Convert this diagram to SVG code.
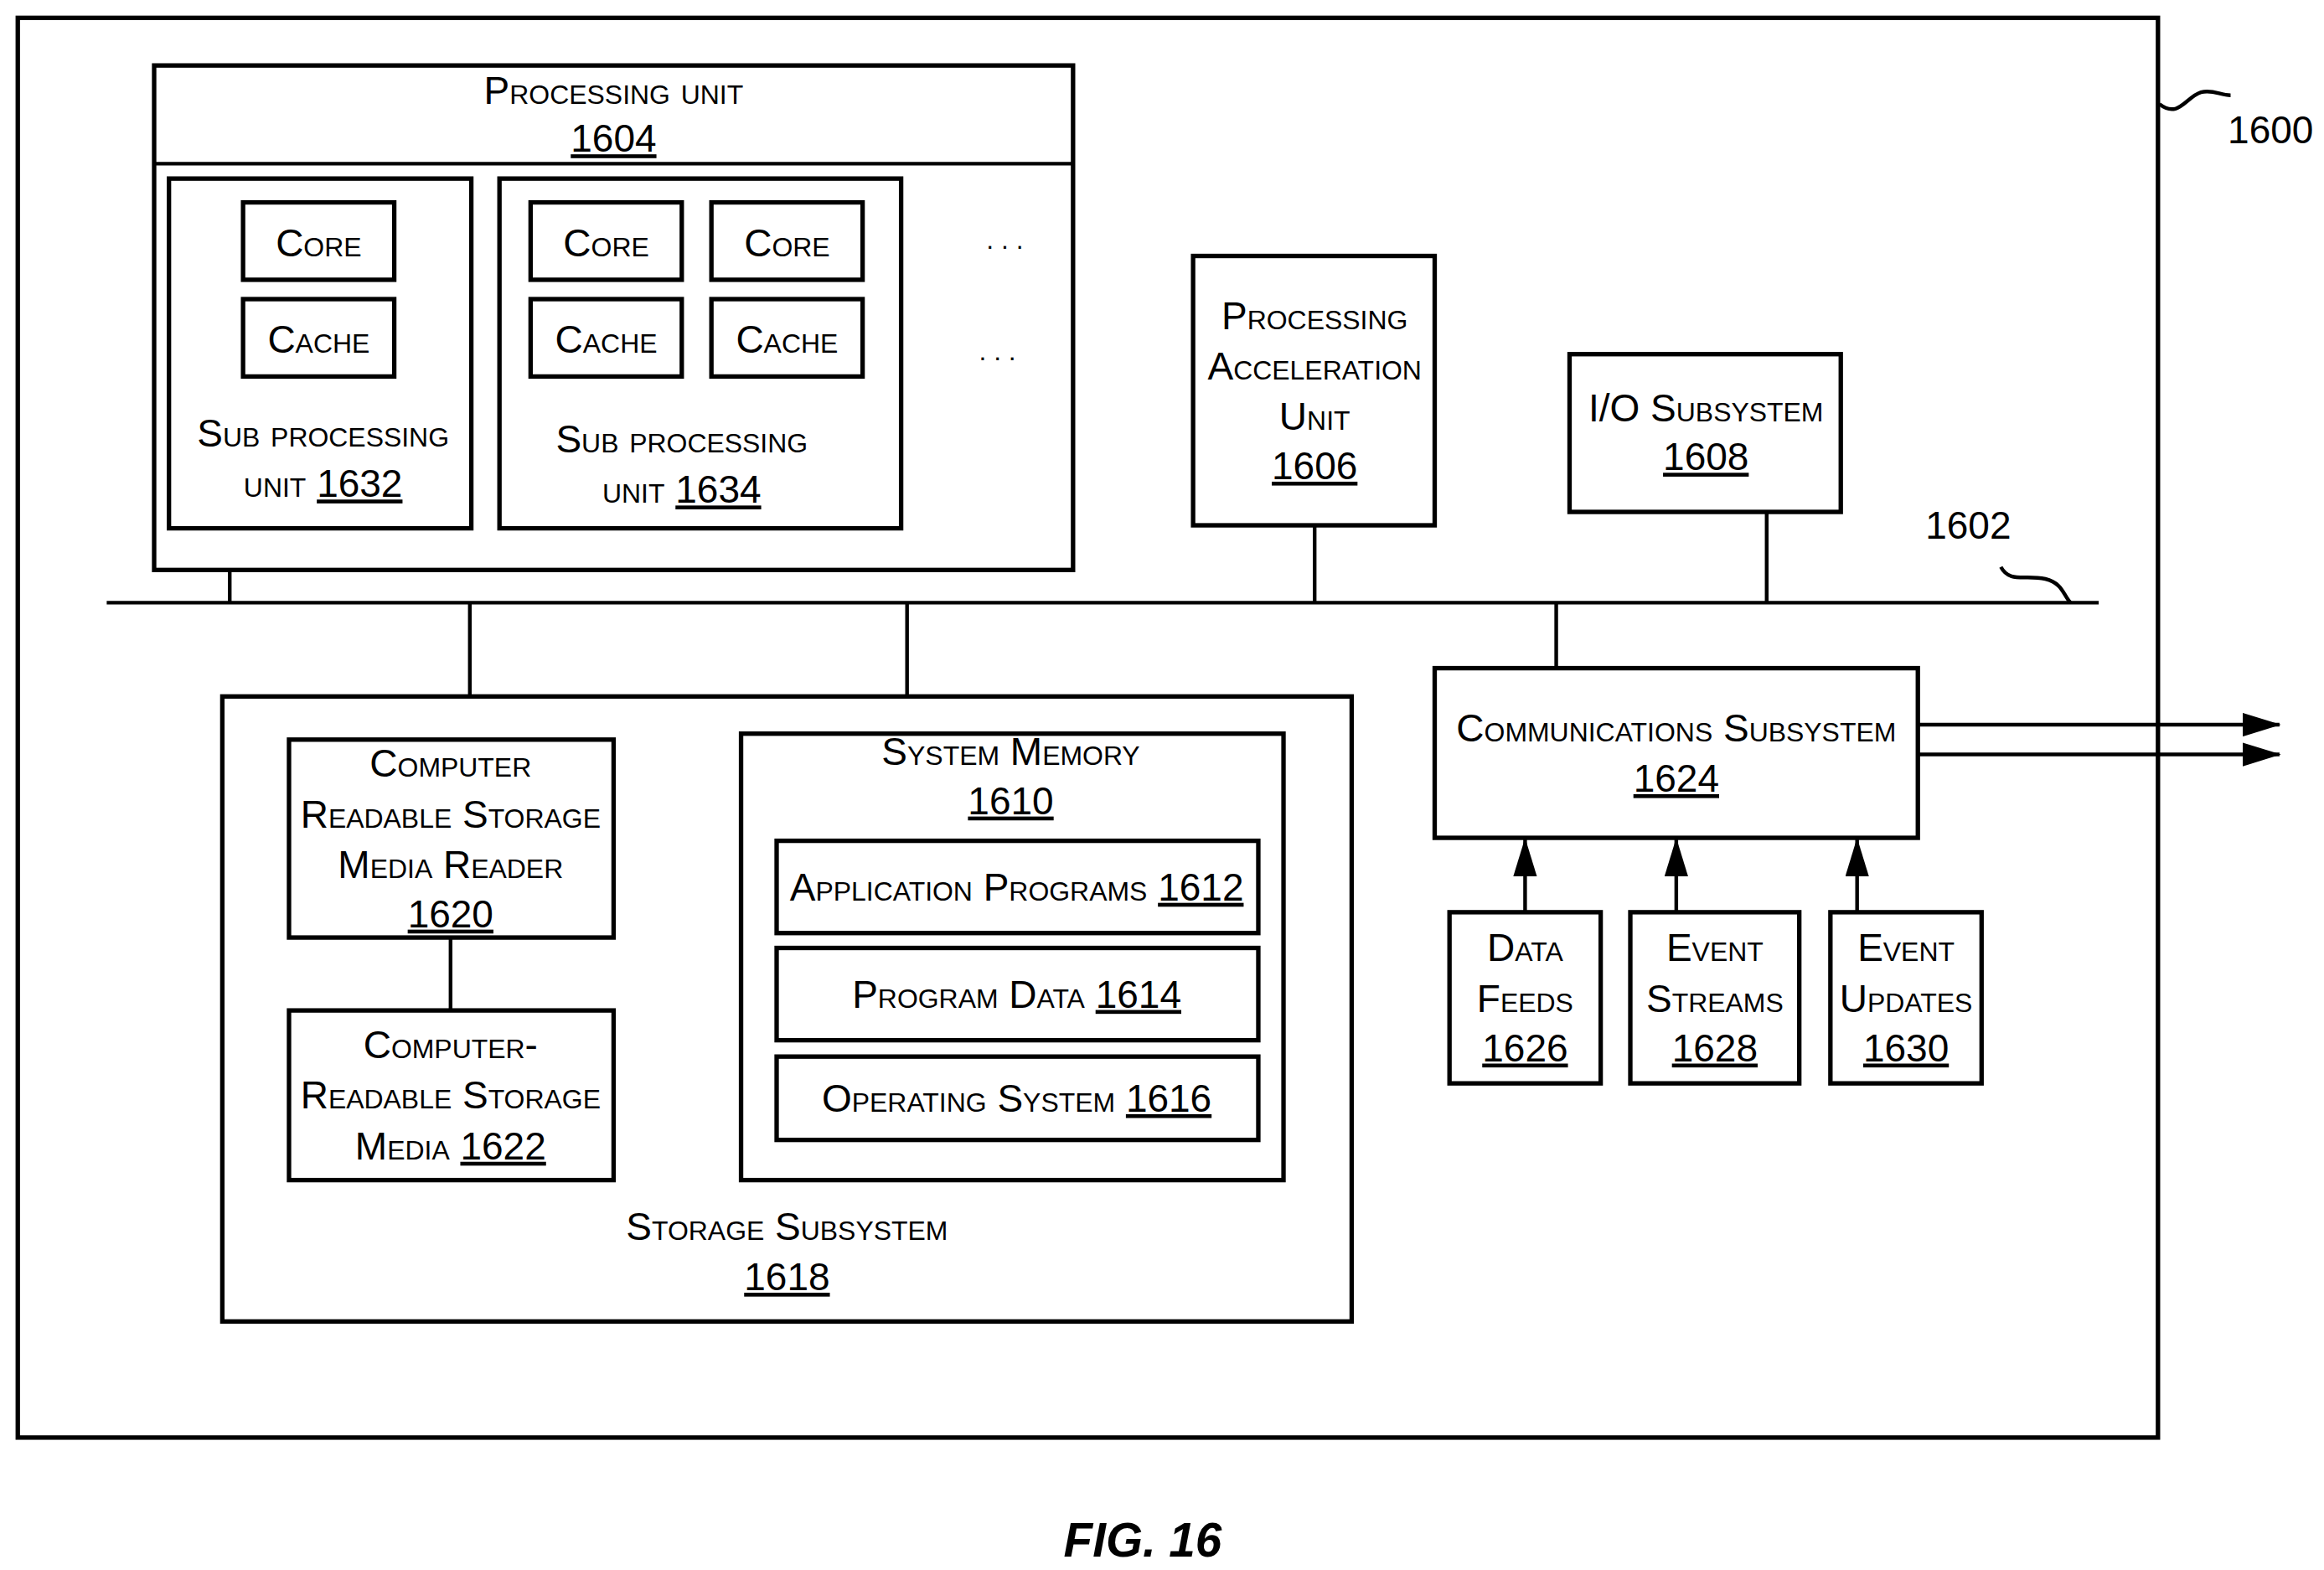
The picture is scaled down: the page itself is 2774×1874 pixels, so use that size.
<svg xmlns="http://www.w3.org/2000/svg" width="2774" height="1874" viewBox="0 0 2774 1874">
<style>
rect{fill:none;stroke:#000;stroke-width:3}
line,path{stroke:#000;stroke-width:2.5;fill:none}
text{font-family:"Liberation Sans",Arial,sans-serif;font-size:26px;font-variant:small-caps;text-anchor:middle;fill:#000}
.u{text-decoration:underline}
.n{font-variant:normal}
</style>
<defs><marker id="ah" markerWidth="10" markerHeight="8" refX="9" refY="4" orient="auto" markerUnits="userSpaceOnUse"><path d="M0,0 L10,4 L0,8 Z" style="fill:#000;stroke:none"/></marker>
<marker id="ah2" viewBox="0 0 26 16" markerWidth="26" markerHeight="16" refX="25" refY="8" orient="auto" markerUnits="userSpaceOnUse"><path d="M0,0 L26,8 L0,16 Z" style="fill:#000;stroke:none"/></marker></defs>
<rect width="2774" height="1874" style="fill:#fff;stroke:none"/>
<g transform="scale(1.7691,1.7763)">
<g id="frame1600"><rect x="12" y="12" width="1444" height="954"/>
<path d="M1457,70 C1470,80 1475,65 1485,62 C1493,60 1498,64 1505,64"/>
<text x="1532" y="96" class="n">1600</text></g>
<g id="pu1604"><rect x="104" y="44" width="620" height="339"/><line x1="104" y1="110" x2="724" y2="110"/>
<text x="414" y="70">Processing unit</text><text x="414" y="102" class="u">1604</text>
<text x="678" y="167" class="n" style="font-size:18px">. . .</text><text x="673" y="242" class="n" style="font-size:18px">. . .</text></g>
<g id="sub1632"><rect x="114" y="120" width="204" height="235"/>
<rect x="164" y="136" width="102" height="52"/><text x="215" y="172">Core</text>
<rect x="164" y="201" width="102" height="52"/><text x="215" y="237">Cache</text>
<text x="218" y="300">Sub processing</text><text x="218" y="334">unit <tspan class="u">1632</tspan></text></g>
<g id="sub1634"><rect x="337" y="120" width="271" height="235"/>
<rect x="358" y="136" width="102" height="52"/><text x="409" y="172">Core</text>
<rect x="480" y="136" width="102" height="52"/><text x="531" y="172">Core</text>
<rect x="358" y="201" width="102" height="52"/><text x="409" y="237">Cache</text>
<rect x="480" y="201" width="102" height="52"/><text x="531" y="237">Cache</text>
<text x="460" y="304">Sub processing</text><text x="460" y="338">unit <tspan class="u">1634</tspan></text></g>
<g id="pa1606"><rect x="805" y="172" width="163" height="181"/>
<text x="887" y="221">Processing</text><text x="887" y="255">Acceleration</text><text x="887" y="289">Unit</text><text x="887" y="322" class="u">1606</text></g>
<g id="io1608"><rect x="1059" y="238" width="183" height="106"/>
<text x="1151" y="283">I/O Subsystem</text><text x="1151" y="316" class="u">1608</text></g>
<g id="ss1618"><rect x="150" y="468" width="762" height="420"/>
<text x="531" y="833">Storage Subsystem</text><text x="531" y="867" class="u">1618</text></g>
<g id="r1620"><rect x="195" y="497" width="219" height="133"/>
<text x="304" y="522">Computer</text><text x="304" y="556">Readable Storage</text><text x="304" y="590">Media Reader</text><text x="304" y="623" class="u">1620</text></g>
<g id="m1622"><rect x="195" y="679" width="219" height="114"/>
<text x="304" y="711">Computer-</text><text x="304" y="745">Readable Storage</text><text x="304" y="779">Media <tspan class="u">1622</tspan></text></g>
<g id="sm1610"><rect x="500" y="493" width="366" height="300"/>
<text x="682" y="514">System Memory</text><text x="682" y="547" class="u">1610</text></g>
<g id="ap1612"><rect x="524" y="565" width="325" height="62"/><text x="686" y="605">Application Programs <tspan class="u">1612</tspan></text></g>
<g id="pd1614"><rect x="524" y="637" width="325" height="62"/><text x="686" y="677">Program Data <tspan class="u">1614</tspan></text></g>
<g id="os1616"><rect x="524" y="710" width="325" height="56"/><text x="686" y="747">Operating System  <tspan class="u">1616</tspan></text></g>
<g id="cs1624"><rect x="968" y="449" width="326" height="114"/>
<text x="1131" y="498">Communications Subsystem</text><text x="1131" y="532" class="u">1624</text></g>
<g id="df1626"><rect x="978" y="613" width="102" height="115"/>
<text x="1029" y="646">Data</text><text x="1029" y="680">Feeds</text><text x="1029" y="713" class="u">1626</text></g>
<g id="es1628"><rect x="1100" y="613" width="114" height="115"/>
<text x="1157" y="646">Event</text><text x="1157" y="680">Streams</text><text x="1157" y="713" class="u">1628</text></g>
<g id="eu1630"><rect x="1235" y="613" width="102" height="115"/>
<text x="1286" y="646">Event</text><text x="1286" y="680">Updates</text><text x="1286" y="713" class="u">1630</text></g>
<g id="connectors">
<line x1="72" y1="405" x2="1416" y2="405"/>
<path d="M1350,381 C1356,392 1366,386 1380,389 C1392,392 1392,400 1397,405"/>
<text x="1328" y="362" class="n">1602</text>
<line x1="155" y1="383" x2="155" y2="405"/>
<line x1="317" y1="405" x2="317" y2="468"/>
<line x1="612" y1="405" x2="612" y2="468"/>
<line x1="887" y1="353" x2="887" y2="405"/>
<line x1="1192" y1="344" x2="1192" y2="405"/>
<line x1="1050" y1="405" x2="1050" y2="449"/>
<line x1="304" y1="630" x2="304" y2="679"/>
<line x1="1294" y1="487" x2="1538" y2="487" marker-end="url(#ah2)"/>
<line x1="1294" y1="507" x2="1538" y2="507" marker-end="url(#ah2)"/>
<line x1="1029" y1="613" x2="1029" y2="564" marker-end="url(#ah2)"/>
<line x1="1131" y1="613" x2="1131" y2="564" marker-end="url(#ah2)"/>
<line x1="1253" y1="613" x2="1253" y2="564" marker-end="url(#ah2)"/>
</g>
<text x="771" y="1046" class="n" style="font-size:32px;font-weight:bold;font-style:italic">FIG. 16</text>
</g>
</svg>
